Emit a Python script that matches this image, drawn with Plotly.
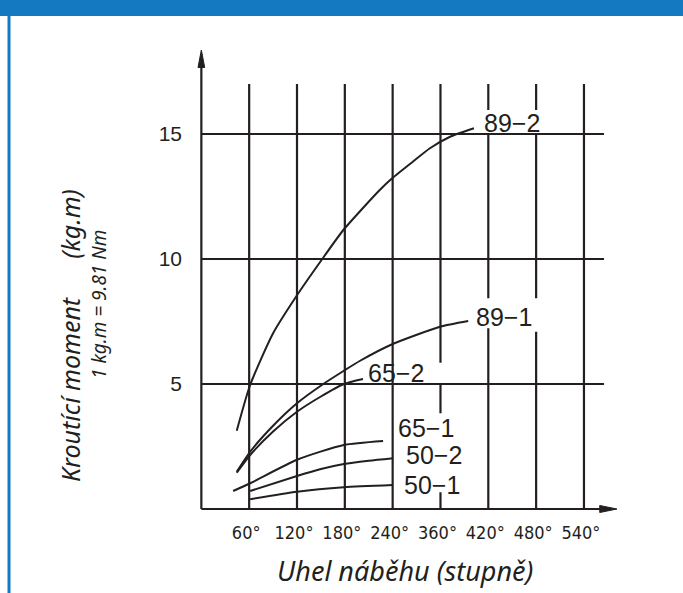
import plotly.graph_objects as go

# ---------------- data ----------------
# x is expressed in grid columns (column k is labelled tick_text[k-1])
tick_pos = [1, 2, 3, 4, 5, 6, 7, 8]
tick_text = ["60°", "120°", "180°", "240°", "360°", "420°", "480°", "540°"]
y_ticks = [5, 10, 15]
y_tick_text = ["5", "10", "15"]

c89_2_x = [0.74, 1.02, 1.50, 2.00, 2.51, 2.97, 3.73, 3.99, 4.42, 4.78, 5.20, 5.70]
c89_2_y = [3.13, 4.96, 7.03, 8.55, 9.95, 11.16, 12.76, 13.23, 13.89, 14.43, 14.89, 15.23]

c89_1_x = [0.74, 1.02, 1.50, 2.00, 2.55, 2.98, 3.32, 3.99, 4.99, 5.58]
c89_1_y = [1.49, 2.29, 3.33, 4.23, 5.00, 5.53, 5.93, 6.59, 7.29, 7.52]

c65_2_x = [0.74, 1.02, 1.50, 2.00, 2.50, 2.98, 3.38]
c65_2_y = [1.45, 2.16, 3.10, 3.89, 4.50, 5.00, 5.20]

c65_1_x = [0.665, 1.02, 2.00, 2.98, 3.80]
c65_1_y = [0.72, 1.03, 1.97, 2.56, 2.72]

c50_2_x = [1.02, 2.00, 2.48, 2.98, 3.50, 4.01]
c50_2_y = [0.72, 1.32, 1.59, 1.80, 1.93, 2.03]

c50_1_x = [1.02, 2.00, 2.98, 4.00]
c50_1_y = [0.39, 0.69, 0.87, 0.96]

series_names = ["89-2", "89-1", "65-2", "65-1", "50-2", "50-1"]
series_x = [c89_2_x, c89_1_x, c65_2_x, c65_1_x, c50_2_x, c50_1_x]
series_y = [c89_2_y, c89_1_y, c65_2_y, c65_1_y, c50_2_y, c50_1_y]
label_x = [6.49, 6.33, 4.07, 4.69, 4.87, 4.83]
label_y = [15.46, 7.68, 5.46, 3.26, 2.15, 0.97]

# grid extents and gaps (vertical gridlines are interrupted near labels)
grid_top = 17.0
grid_right = 8.42
x_tip = 8.69
y_tip = 18.36
v_segments = {
    5: [(0, 0.67), (3.83, 5.0), (5.85, 17.0)],
    6: [(0, 7.23), (8.43, 15.0), (15.96, 17.0)],
    7: [(0, 7.09), (8.43, 15.0), (15.96, 17.0)],
}

INK = "#231f20"
BLUE = "#1479c0"

fig = go.Figure()
for name, xs, ys in zip(series_names, series_x, series_y):
    fig.add_trace(go.Scatter(x=xs, y=ys, mode="lines", name=name,
                             line=dict(color=INK, width=2, shape="spline", smoothing=0.6),
                             hoverinfo="skip", showlegend=False))

shapes = []
lw = 2.2
for v in y_ticks:
    shapes.append(dict(type="line", xref="x", yref="y", x0=0, x1=grid_right, y0=v, y1=v,
                       line=dict(color=INK, width=lw)))
for p in tick_pos:
    segs = v_segments.get(p, [(0, grid_top)])
    for a, b in segs:
        shapes.append(dict(type="line", xref="x", yref="y", x0=p, x1=p, y0=a, y1=b,
                           line=dict(color=INK, width=lw)))
# axes
shapes.append(dict(type="line", xref="x", yref="y", x0=0, x1=0, y0=0, y1=y_tip - 0.5,
                   line=dict(color=INK, width=lw)))
shapes.append(dict(type="line", xref="x", yref="y", x0=0, x1=x_tip - 0.25, y0=0, y1=0,
                   line=dict(color=INK, width=lw)))
shapes.append(dict(type="path", xref="x", yref="y",
                   path=f"M {-0.07},{y_tip-0.7} L 0,{y_tip} L 0.07,{y_tip-0.7} Z",
                   fillcolor=INK, line=dict(color=INK, width=1)))
shapes.append(dict(type="path", xref="x", yref="y",
                   path=f"M {x_tip-0.36},-0.14 L {x_tip},0 L {x_tip-0.36},0.14 Z",
                   fillcolor=INK, line=dict(color=INK, width=1)))

# page frame (pixel -> paper conversion for the plot area)
L, R, T, B, W, H = 187, 56, 44, 74, 683, 593
PW, PH = W - L - R, H - T - B
def px(x):
    return (x - L) / PW
def py(y):
    return (H - B - y) / PH

shapes.append(dict(type="rect", xref="paper", yref="paper", x0=px(0), x1=px(W), y0=py(0), y1=py(16),
                   fillcolor=BLUE, line=dict(width=0), layer="below"))
shapes.append(dict(type="line", xref="paper", yref="paper", x0=px(9), x1=px(9), y0=py(16), y1=py(H),
                   line=dict(color=BLUE, width=3)))

annotations = []
for name, lx, ly in zip(series_names, label_x, label_y):
    annotations.append(dict(x=lx, y=ly, xref="x", yref="y", text=name.replace("-", "\u2212"),
                            xanchor="center", yanchor="middle",
                            showarrow=False, font=dict(family="Liberation Sans, Arial", size=25, color=INK)))
annotations.append(dict(x=-0.5, y=-0.72, xref="x", yref="y", text="0", showarrow=False,
                        xanchor="center", yanchor="middle",
                        font=dict(family="Liberation Sans, Arial", size=20, color=INK)))
annotations.append(dict(x=px(405), y=py(570), xref="paper", yref="paper",
                        xanchor="center", yanchor="middle",
                        text="<i>Uhel náběhu (stupně)</i>", showarrow=False,
                        font=dict(family="Noto Sans, Open Sans", size=27, color=INK)))
annotations.append(dict(x=px(70), y=py(335), xref="paper", yref="paper", textangle=-90,
                        xanchor="center", yanchor="middle",
                        text="<i>Kroutící moment" + "\u00a0" * 6 + "(kg.m)</i>", showarrow=False,
                        font=dict(family="Noto Sans, Open Sans", size=25, color=INK)))
annotations.append(dict(x=px(99), y=py(305), xref="paper", yref="paper", textangle=-90,
                        xanchor="center", yanchor="middle",
                        text="<i>1 kg.m = 9.81 Nm</i>", showarrow=False,
                        font=dict(family="Noto Sans, Open Sans", size=19, color=INK)))

fig.update_layout(
    width=W, height=H, margin=dict(l=L, r=R, t=T, b=B),
    paper_bgcolor="white", plot_bgcolor="white",
    shapes=shapes, annotations=annotations,
    xaxis=dict(range=[-0.3, 8.9], showgrid=False, zeroline=False, showline=False,
               tickmode="array", tickvals=tick_pos, ticktext=tick_text, ticks="",
               ticklabelstandoff=1, ticklabelshift=-3,
               tickfont=dict(family="Liberation Sans Narrow, DejaVu Sans Condensed, Liberation Sans", size=18, color=INK)),
    yaxis=dict(range=[-0.4, 18.6], showgrid=False, zeroline=False, showline=False,
               tickmode="array", tickvals=y_ticks, ticktext=y_tick_text, ticks="",
               ticklabelstandoff=4,
               tickfont=dict(family="Liberation Sans, Arial", size=21, color=INK)),
)

fig.write_html("out.html", config={"displayModeBar": False},
               post_script="document.body.style.margin='0px';document.documentElement.style.overflow='hidden';")
